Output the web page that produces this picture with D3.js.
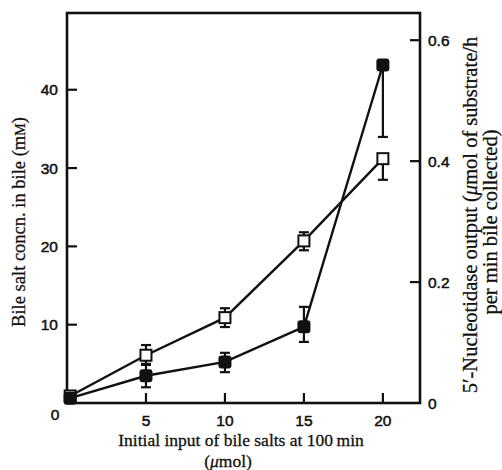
<!DOCTYPE html>
<html>
<head>
<meta charset="utf-8">
<script src="https://cdn.jsdelivr.net/npm/d3@7"></script>
<style>
	body { margin: 0; background: #fff; }
	svg { display: block; }
	.tick-label { font-family: "Liberation Sans", Arial, sans-serif; font-size: 15.5px; fill: #111; stroke: #111; stroke-width: 0.5px; }
	.title { font-family: "Liberation Serif", "Times New Roman", serif; font-size: 18.5px; fill: #111; stroke: #111; stroke-width: 0.3px; }
</style>
</head>
<body>
<div id="chart"></div>
<script>
// Input of bile salts (umol)
const inputs = [0.2, 5, 10, 15, 20];

// Bile salt concn. (mM) - open squares, left axis
const bileSalt = [0.9, 6.1, 10.9, 20.7, 31.2];
const bileSaltLow = [0.9, 5.0, 9.7, 19.5, 28.5];
const bileSaltHigh = [0.9, 7.4, 12.1, 21.8, 31.2];

// 5'-Nucleotidase output - filled squares, right axis
const nucleotidase = [0.008, 0.045, 0.068, 0.126, 0.559];
const nucleotidaseLow = [0.008, 0.026, 0.051, 0.101, 0.44];
const nucleotidaseHigh = [0.008, 0.063, 0.083, 0.159, 0.559];

const xTicks = [5, 10, 15, 20];
const leftTicks = [10, 20, 30, 40];
const rightTicks = [0.2, 0.4, 0.6];

const width = 502;
const height = 470;
const margin = { top: 13, right: 82, bottom: 67, left: 67 };

const svg = d3.select("#chart")
	.append("svg")
	.attr("width", width)
	.attr("height", height);

const x = d3.scaleLinear()
	.domain([0, 22.35])
	.range([margin.left, width - margin.right]);

const yLeft = d3.scaleLinear()
	.domain([0, 49.8])
	.range([height - margin.bottom, margin.top]);

const yRight = d3.scaleLinear()
	.domain([0, 0.645])
	.range([height - margin.bottom, margin.top]);

const x0 = margin.left, x1 = width - margin.right;
const y0 = height - margin.bottom, y1 = margin.top;
const tickLen = 10;
const stroke = "#111";

// Frame
svg.append("rect")
	.attr("x", x0)
	.attr("y", y1)
	.attr("width", x1 - x0)
	.attr("height", y0 - y1)
	.attr("fill", "none")
	.attr("stroke", stroke)
	.attr("stroke-width", 2.6);

// Inward ticks
const g = svg.append("g").attr("stroke", stroke).attr("stroke-width", 2.2);
g.selectAll("line.xt").data(xTicks).join("line")
	.attr("x1", (d) => x(d)).attr("x2", (d) => x(d))
	.attr("y1", y0).attr("y2", y0 - tickLen);
g.selectAll("line.lt").data(leftTicks).join("line")
	.attr("x1", x0).attr("x2", x0 + tickLen)
	.attr("y1", (d) => yLeft(d)).attr("y2", (d) => yLeft(d));
g.selectAll("line.rt").data(rightTicks).join("line")
	.attr("x1", x1).attr("x2", x1 - tickLen)
	.attr("y1", (d) => yRight(d)).attr("y2", (d) => yRight(d));

// Tick labels
svg.selectAll("text.xl").data(xTicks).join("text")
	.attr("class", "tick-label")
	.attr("x", (d) => x(d))
	.attr("y", y0 + 23)
	.attr("text-anchor", "middle")
	.text((d) => d);
svg.append("text")
	.attr("class", "tick-label")
	.attr("x", x0 - 12)
	.attr("y", y0 + 17)
	.attr("text-anchor", "middle")
	.text("0");
svg.selectAll("text.ll").data(leftTicks).join("text")
	.attr("class", "tick-label")
	.attr("x", x0 - 9)
	.attr("y", (d) => yLeft(d) + 5.5)
	.attr("text-anchor", "end")
	.text((d) => d);
svg.selectAll("text.rl").data([0].concat(rightTicks)).join("text")
	.attr("class", "tick-label")
	.attr("x", x1 + 8)
	.attr("y", (d) => yRight(d) + 6)
	.attr("text-anchor", "start")
	.text((d) => (d === 0 ? "0" : d3.format(".1f")(d)));

// Lines
const lineLeft = d3.line().x((d, i) => x(inputs[i])).y((d) => yLeft(d));
const lineRight = d3.line().x((d, i) => x(inputs[i])).y((d) => yRight(d));

svg.append("path")
	.datum(bileSalt)
	.attr("d", lineLeft)
	.attr("fill", "none")
	.attr("stroke", stroke)
	.attr("stroke-width", 2.4);
svg.append("path")
	.datum(nucleotidase)
	.attr("d", lineRight)
	.attr("fill", "none")
	.attr("stroke", stroke)
	.attr("stroke-width", 2.4);

// Error bars
function errorBars(low, high, scale) {
	const eb = svg.append("g").attr("stroke", stroke).attr("stroke-width", 2.2);
	inputs.forEach((v, i) => {
		if (low[i] === high[i]) return;
		const cx = x(v);
		eb.append("line")
			.attr("x1", cx).attr("x2", cx)
			.attr("y1", scale(low[i])).attr("y2", scale(high[i]));
		[low[i], high[i]].forEach((e) => {
			eb.append("line")
				.attr("x1", cx - 5).attr("x2", cx + 5)
				.attr("y1", scale(e)).attr("y2", scale(e));
		});
	});
}
errorBars(bileSaltLow, bileSaltHigh, yLeft);
errorBars(nucleotidaseLow, nucleotidaseHigh, yRight);

// Markers
const sq = 11;
svg.append("g").selectAll("rect").data(bileSalt).join("rect")
	.attr("x", (d, i) => x(inputs[i]) - sq / 2)
	.attr("y", (d) => yLeft(d) - sq / 2)
	.attr("width", sq).attr("height", sq)
	.attr("fill", "#fff")
	.attr("stroke", stroke)
	.attr("stroke-width", 2);
svg.append("g").selectAll("rect").data(nucleotidase).join("rect")
	.attr("x", (d, i) => x(inputs[i]) - 6.5)
	.attr("y", (d) => yRight(d) - 6.5)
	.attr("width", 13).attr("height", 13)
	.attr("rx", 3)
	.attr("fill", stroke);

// Axis titles
const leftTitle = svg.append("text")
	.attr("class", "title")
	.attr("transform", `translate(25, ${(y0 + y1) / 2 + 14}) rotate(-90)`)
	.attr("text-anchor", "middle");
leftTitle.append("tspan").text("Bile salt concn. in bile (m");
leftTitle.append("tspan").style("font-size", "14px").text("M");
leftTitle.append("tspan").text(")");

const rightTitle = svg.append("text")
	.attr("class", "title")
	.style("font-size", "20.5px")
	.attr("transform", `translate(477, 215) rotate(-90)`)
	.attr("text-anchor", "middle");
rightTitle.append("tspan").text("5\u2032-Nucleotidase output (");
rightTitle.append("tspan").style("font-style", "italic").text("\u03bc");
rightTitle.append("tspan").text("mol of substrate/h");
svg.append("text")
	.attr("class", "title")
	.style("font-size", "20.5px")
	.attr("transform", `translate(497, 222) rotate(-90)`)
	.attr("text-anchor", "middle")
	.text("per min bile collected)");

svg.append("text")
	.attr("class", "title")
	.style("font-size", "17.5px")
	.attr("x", 241)
	.attr("y", 446)
	.attr("text-anchor", "middle")
	.text("Initial input of bile salts at 100\u2009min");
const unitTitle = svg.append("text")
	.attr("class", "title")
	.style("font-size", "17.5px")
	.attr("x", 228)
	.attr("y", 467)
	.attr("text-anchor", "middle");
unitTitle.append("tspan").text("(");
unitTitle.append("tspan").style("font-style", "italic").text("\u03bc");
unitTitle.append("tspan").text("mol)");
</script>
</body>
</html>
